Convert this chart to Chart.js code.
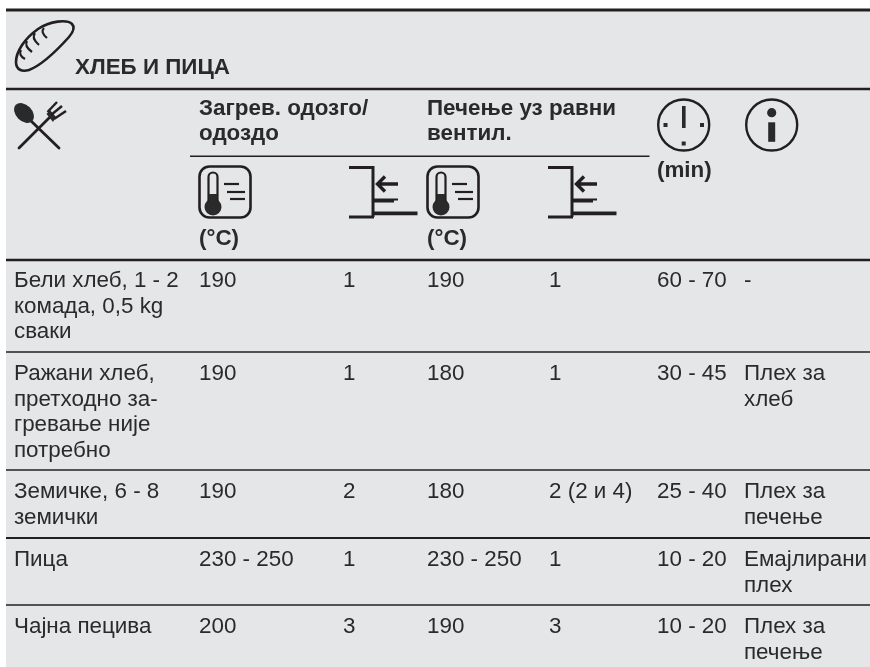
<!DOCTYPE html>
<html>
<head>
<meta charset="utf-8">
<title>Хлеб и пица</title>
<style>
  html, body { margin: 0; padding: 0; background: #fff; }
  canvas { display: block; }
</style>
<script src="https://cdn.jsdelivr.net/npm/chart.js@4"></script>
</head>
<body>
<canvas id="tabla" width="870" height="667"></canvas>
<script>
// table contents
const categories = [
  ["Бели хлеб, 1 - 2", "комада, 0,5 kg", "сваки"],
  ["Ражани хлеб,", "претходно за-", "гревање није", "потребно"],
  ["Земичке, 6 - 8", "земички"],
  ["Пица"],
  ["Чајна пецива"]
];
const topHeat = ["190", "190", "190", "230 - 250", "200"];
const topShelf = ["1", "1", "2", "1", "3"];
const fanHeat = ["190", "180", "180", "230 - 250", "190"];
const fanShelf = ["1", "1", "2 (2 и 4)", "1", "3"];
const minutes = ["60 - 70", "30 - 45", "25 - 40", "10 - 20", "10 - 20"];
const notes = [
  ["-"],
  ["Плех за", "хлеб"],
  ["Плех за", "печење"],
  ["Емајлирани", "плех"],
  ["Плех за", "печење"]
];
const title = "ХЛЕБ И ПИЦА";
const topHeader = ["Загрев. одозго/", "одоздо"];
const fanHeader = ["Печење уз равни", "вентил."];
const unitTemp = "(°C)";
const unitTime = "(min)";

// layout
const columnX = [14, 199, 343, 427, 549, 657, 744];
const rowBaseline = [287, 380, 498, 566, 633];
const rowRules = [260, 352, 470, 538, 605];
const ruleWidth = [2.4, 1.5, 1.6, 1.8, 1.5];
const lineHeight = 25.5;
const ink = "#2b2a2b";
const bodyFont = "22.4px 'Liberation Sans'";
const boldFont = "bold 22.4px 'Liberation Sans'";

const columns = [categories, topHeat, topShelf, fanHeat, fanShelf, minutes, notes];

function thermometer(c, ox) {
  c.lineWidth = 2.6;
  c.beginPath();
  c.roundRect(ox + 0.5, 166.5, 51, 51, 10);
  c.stroke();
  c.beginPath();
  c.arc(ox + 14, 207, 8.5, 0, Math.PI * 2);
  c.fill();
  c.lineWidth = 2.2;
  c.beginPath();
  c.moveTo(ox + 9.5, 202);
  c.lineTo(ox + 9.5, 177);
  c.arc(ox + 14, 177, 4.5, Math.PI, 0);
  c.lineTo(ox + 18.5, 202);
  c.stroke();
  c.fillRect(ox + 10, 194, 8, 10);
  c.lineWidth = 2.2;
  [[25, 40, 184], [28, 46, 192], [31, 46, 199]].forEach(l => {
    c.beginPath();
    c.moveTo(ox + l[0], l[2]);
    c.lineTo(ox + l[1], l[2]);
    c.stroke();
  });
}

function shelf(c, ox) {
  c.lineWidth = 3;
  c.beginPath();
  c.moveTo(ox, 167.4);
  c.lineTo(ox + 24, 167.4);
  c.lineTo(ox + 24, 217);
  c.moveTo(ox, 217);
  c.lineTo(ox + 25, 217);
  c.stroke();
  c.lineWidth = 3.8;
  c.beginPath();
  c.moveTo(ox + 24, 213.3);
  c.lineTo(ox + 68.5, 213.3);
  c.stroke();
  c.lineWidth = 2;
  c.beginPath();
  c.moveTo(ox + 24, 199.6);
  c.lineTo(ox + 49, 199.6);
  c.moveTo(ox + 24, 201.6);
  c.lineTo(ox + 45, 201.6);
  c.stroke();
  c.lineWidth = 3.4;
  c.beginPath();
  c.moveTo(ox + 49, 184);
  c.lineTo(ox + 30, 184);
  c.moveTo(ox + 36, 176.5);
  c.lineTo(ox + 28.5, 184);
  c.lineTo(ox + 36, 191.5);
  c.stroke();
}

function clock(c) {
  c.lineWidth = 2.4;
  c.beginPath();
  c.arc(683.7, 125, 25.5, 0, Math.PI * 2);
  c.stroke();
  c.fillRect(682, 106, 3.6, 22);
  c.fillRect(663.5, 123, 4, 4);
  c.fillRect(700, 123, 4, 4);
  c.fillRect(681.7, 141.5, 4, 4);
}

function info(c) {
  c.lineWidth = 2.4;
  c.beginPath();
  c.arc(771.7, 125, 25.5, 0, Math.PI * 2);
  c.stroke();
  c.beginPath();
  c.arc(771.7, 112.7, 4.6, 0, Math.PI * 2);
  c.fill();
  c.fillRect(768.2, 122.3, 7, 19.5);
}

function bread(c) {
  c.lineWidth = 2.6;
  c.beginPath();
  c.moveTo(72, 24);
  c.bezierCurveTo(67, 19, 50, 21, 38, 29);
  c.bezierCurveTo(24, 39, 16, 52, 16, 62);
  c.bezierCurveTo(16, 70, 22, 72, 29, 70);
  c.bezierCurveTo(42, 65, 60, 47, 69, 37);
  c.bezierCurveTo(74, 31, 75, 27, 72, 24);
  c.stroke();
  c.lineWidth = 2.2;
  [[44, 28, 40, 32, 47, 38], [35, 33, 31, 38, 39, 45], [27, 41, 24, 46, 32, 52], [21, 50, 18, 55, 25, 59]].forEach(a => {
    c.beginPath();
    c.moveTo(a[0], a[1]);
    c.quadraticCurveTo(a[2], a[3], a[4], a[5]);
    c.stroke();
  });
}

function cutlery(c) {
  c.lineCap = "round";
  c.lineWidth = 2.8;
  c.beginPath();
  c.moveTo(30, 120);
  c.lineTo(59, 148);
  c.moveTo(19, 148);
  c.lineTo(50, 117);
  c.stroke();
  c.lineCap = "butt";
  c.save();
  c.translate(24, 113);
  c.rotate(Math.PI / 4);
  c.beginPath();
  c.ellipse(0, 0, 11.5, 8, 0, 0, Math.PI * 2);
  c.fill();
  c.restore();
  // fork head
  c.beginPath();
  c.moveTo(46.5, 114);
  c.lineTo(50, 110);
  c.lineTo(56, 117);
  c.lineTo(53, 122);
  c.closePath();
  c.fill();
  c.lineWidth = 2.4;
  [[47.5, 112, 57, 102], [51, 115, 62, 106], [54, 119, 66, 111]].forEach(p => {
    c.beginPath();
    c.moveTo(p[0], p[1]);
    c.lineTo(p[2], p[3]);
    c.stroke();
  });
}

const tablaPlugin = {
  id: "tabla",
  beforeDatasetsDraw(chart) {
    const c = chart.ctx;
    const x = chart.scales.x;
    const y = chart.scales.y;
    c.save();
    c.fillStyle = "#e4e6e8";
    c.fillRect(x.getPixelForValue(6), y.getPixelForValue(9), 864, 658);
    c.strokeStyle = "#231f20";
    const rule = (x0, x1, yy, w) => {
      c.lineWidth = w;
      c.beginPath();
      c.moveTo(x.getPixelForValue(x0), y.getPixelForValue(yy));
      c.lineTo(x.getPixelForValue(x1), y.getPixelForValue(yy));
      c.stroke();
    };
    rule(6, 870, 10, 3);
    rule(6, 870, 89, 2.4);
    rule(190, 649.5, 156.3, 1.4);
    rowRules.forEach((r, i) => rule(6, 870, r, ruleWidth[i]));
    c.restore();
  },
  afterDatasetsDraw(chart) {
    const c = chart.ctx;
    c.save();
    c.fillStyle = ink;
    c.strokeStyle = "#231f20";
    c.textBaseline = "alphabetic";
    c.textAlign = "left";

    // body cells sit on the dataset points
    c.font = bodyFont;
    chart.data.datasets.forEach((ds, di) => {
      chart.getDatasetMeta(di).data.forEach((pt, i) => {
        const cell = columns[di][i];
        const lines = Array.isArray(cell) ? cell : [cell];
        lines.forEach((t, k) => c.fillText(t, pt.x, pt.y + k * lineHeight));
      });
    });

    c.font = boldFont;
    c.fillText(title, 75, 74);
    topHeader.forEach((t, k) => c.fillText(t, 199, 115 + k * 25.3));
    fanHeader.forEach((t, k) => c.fillText(t, 427, 115 + k * 25.3));
    c.fillText(unitTemp, 199, 245);
    c.fillText(unitTemp, 427, 245);
    c.fillText(unitTime, 657, 177);

    bread(c);
    cutlery(c);
    thermometer(c, 199);
    thermometer(c, 427);
    shelf(c, 349);
    shelf(c, 548);
    clock(c);
    info(c);
    c.restore();
  }
};

new Chart(document.getElementById("tabla"), {
  type: "scatter",
  data: {
    datasets: columns.map((col, di) => ({
      label: "col" + di,
      data: col.map((_, i) => ({ x: columnX[di], y: rowBaseline[i] })),
      pointRadius: 0
    }))
  },
  options: {
    responsive: false,
    animation: false,
    layout: { padding: 0 },
    plugins: { legend: { display: false }, tooltip: { enabled: false } },
    scales: {
      x: { type: "linear", min: 0, max: 870, display: false },
      y: { type: "linear", min: 0, max: 667, reverse: true, display: false }
    }
  },
  plugins: [tablaPlugin]
});
</script>
</body>
</html>
